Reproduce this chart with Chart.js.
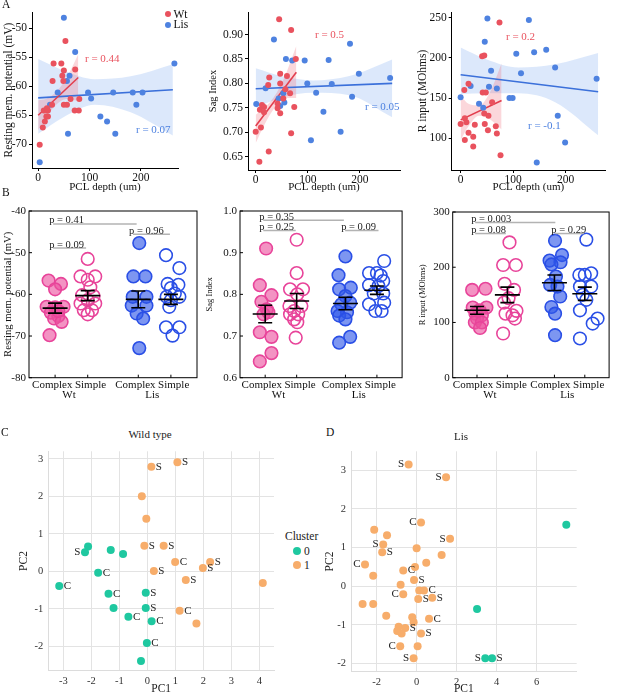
<!DOCTYPE html>
<html><head><meta charset="utf-8">
<script src="https://cdn.jsdelivr.net/npm/chart.js@4.4.0/dist/chart.umd.min.js"></script>
<style>
body{margin:0;width:617px;height:696px;position:relative;background:#fff;font-family:'Liberation Serif','Times New Roman',serif;overflow:hidden}
canvas{position:absolute}
.t{position:absolute;white-space:nowrap;line-height:1;color:#111}
.dot{position:absolute;border-radius:50%}
</style></head><body>
<script>
// ================= DATA =================
// Panel A: PCL depth (um) vs property, Wt and Lis
const depthTicks = [0, 100, 200];
const rmpTicks = [-70, -65, -60, -55, -50];
const sagTicks = [0.65, 0.70, 0.75, 0.80, 0.85, 0.90];
const rinTicks = [100, 150, 200, 250];

const a1WtDepth = [3, 9, 13, 11, 16, 19, 19, 17, 27, 28, 30, 45, 47, 49, 50, 53, 50, 56, 63, 71, 72, 79, 80];
const a1WtRmp = [-70.1, -67.1, -66.1, -64.2, -65.2, -65.2, -64.2, -63.8, -63.2, -59.1, -56.1, -56.1, -58.2, -59.1, -57.3, -52.2, -63.2, -63.2, -62.2, -64.2, -57.1, -64.2, -62.2];
const a1LisDepth = [50, 72, 61, 56, 38, 23, 58, 3, 97, 103, 121, 134, 150, 146, 184, 203, 191, 265];
const a1LisRmp = [-48.2, -54.1, -58.2, -59.1, -61.1, -63.2, -68.2, -73.1, -61.1, -62.1, -65.2, -66.1, -68.2, -61.1, -61.1, -61.1, -63.2, -56.1];

const a2WtDepth = [45, 68, 77, 47, 26, 24, 47, 60, 66, 53, 42, 42, 47, 74, 12, 16, 8, 16, 10, 0, 25, 7, 68, 57];
const a2WtSag = [0.931, 0.909, 0.850, 0.820, 0.812, 0.797, 0.800, 0.815, 0.780, 0.769, 0.759, 0.749, 0.739, 0.752, 0.756, 0.752, 0.746, 0.741, 0.710, 0.701, 0.661, 0.640, 0.698, 0.788];
const a2LisDepth = [35, 58, 70, 94, 140, 181, 198, 258, 99, 146, 116, 185, 1, 19, 53, 55, 47, 44, 130, 106, 163];
const a2LisSag = [0.890, 0.850, 0.847, 0.847, 0.848, 0.881, 0.820, 0.811, 0.800, 0.799, 0.781, 0.773, 0.758, 0.790, 0.780, 0.761, 0.754, 0.769, 0.742, 0.684, 0.701];

const a3WtDepth = [74, 41, 45, 15, 7, 42, 48, 60, 8, 45, 53, 11, 0, 27, 46, 67, 52, 69, 15, 24, 8, 24, 76];
const a3WtRin = [244, 202, 203, 168, 160, 157, 157, 145, 125, 131, 128, 120, 118, 117, 118, 115, 110, 106, 107, 102, 98, 90, 79];
const a3LisDepth = [51, 130, 46, 106, 140, 163, 180, 115, 58, 259, 19, 54, 69, 0, 93, 99, 35, 43, 185, 199, 145];
const a3LisRin = [249, 247, 220, 205, 207, 210, 188, 181, 184, 174, 165, 164, 162, 151, 150, 150, 143, 138, 128, 95, 70];

// regression lines and confidence bands
const wtFitDepth = [0, 78];
const lisFitDepth = [0, 262];
const wtBandDepth = [0, 15, 35, 55, 78];
const lisBandDepth = [0, 50, 110, 180, 262];

const a1WtFit = [-65.0, -58.5];
const a1LisFit = [-62.0, -60.6];
const a1WtUpper = [-62.4, -62.2, -61.0, -58.6, -54.5];
const a1WtLower = [-67.6, -65.4, -63.2, -62.2, -62.5];
const a1LisUpper = [-55.3, -57.3, -58.8, -58.3, -56.2];
const a1LisLower = [-68.2, -65.3, -63.2, -64.5, -68.5];

const a2WtFit = [0.713, 0.823];
const a2LisFit = [0.789, 0.800];
const a2WtUpper = [0.736, 0.748, 0.772, 0.812, 0.877];
const a2WtLower = [0.678, 0.712, 0.748, 0.770, 0.770];
const a2LisUpper = [0.831, 0.815, 0.806, 0.815, 0.849];
const a2LisLower = [0.750, 0.771, 0.781, 0.776, 0.731];

const a3WtFit = [123, 147];
const a3LisFit = [179, 158];
const a3WtUpper = [153, 143, 141, 156, 193];
const a3WtLower = [98, 115, 128, 124, 111];
const a3LisUpper = [213, 198, 188, 192, 206];
const a3LisLower = [155, 156, 156, 145, 104];

// Panel B: groups Complex/Simple within Wt/Lis
const bCatPos = [1, 2, 3.55, 4.55];
const bCatLabels = ['Complex', 'Simple', 'Complex', 'Simple'];
const bGenotypes = ['Wt', 'Lis'];
const rmpTicksB = [-80, -70, -60, -50, -40];
const sagTicksB = [0.6, 0.7, 0.8, 0.9, 1.0];
const rinTicksB = [0, 100, 200, 300];

const b1CwJit = [-0.20, 0.18, 0.0, -0.26, 0.0, 0.26, -0.13, 0.10, -0.03, 0.20, -0.17, 0.10];
const b1CwVal = [-56.7, -57.5, -58.8, -63.0, -63.1, -63.0, -64.4, -65.2, -65.8, -66.6, -69.8, -64.0];
const b1SwJit = [0.0, -0.22, 0.23, 0.0, 0.08, -0.17, 0.18, 0.0, -0.22, 0.23, -0.12, 0.13, 0.0];
const b1SwVal = [-51.5, -55.7, -55.7, -56.5, -58.3, -60.2, -60.4, -61.4, -62.2, -62.2, -63.8, -63.8, -64.8];
const b1ClJit = [0.03, -0.15, 0.22, -0.17, 0.25, -0.20, 0.25, -0.05, 0.15, 0.03];
const b1ClVal = [-47.7, -55.7, -55.7, -60.6, -60.6, -62.7, -62.7, -64.6, -65.8, -72.9];
const b1SlJit = [-0.15, 0.26, -0.10, 0.23, 0.0, 0.12, -0.13, 0.26, 0.0, -0.05, -0.15, 0.26, 0.05];
const b1SlVal = [-50.6, -53.7, -57.5, -57.7, -58.5, -59.8, -60.6, -60.6, -61.4, -63.0, -67.9, -67.9, -69.9];
const b1Mean = [-63.3, -60.3, -61.2, -61.2];
const b1Sem = [1.2, 1.2, 2.0, 1.2];
const b1PLabels = ['p = 0.41', 'p = 0.09', 'p = 0.96'];
const b1PFrom = [0.94, 0.94, 3.39];
const b1PTo = [3.5, 1.95, 4.52];
const b1PLevel = [-43.1, -48.9, -45.6];

const b2CwJit = [0.03, -0.17, 0.20, -0.12, 0.05, -0.05, 0.10, -0.17, 0.20, 0.20, -0.17];
const b2CwVal = [0.910, 0.822, 0.798, 0.782, 0.764, 0.752, 0.757, 0.709, 0.698, 0.659, 0.639];
const b2SwJit = [0.0, 0.0, -0.21, 0.20, 0.02, -0.23, 0.15, -0.08, -0.21, 0.05, -0.08, 0.02, -0.03];
const b2SwVal = [0.931, 0.851, 0.812, 0.812, 0.800, 0.772, 0.772, 0.760, 0.752, 0.752, 0.740, 0.733, 0.696];
const b2ClJit = [0.0, -0.22, -0.20, 0.17, 0.0, -0.13, 0.15, -0.25, 0.05, -0.20, 0.0, 0.15, -0.20];
const b2ClVal = [0.891, 0.846, 0.812, 0.816, 0.796, 0.776, 0.780, 0.760, 0.757, 0.749, 0.740, 0.698, 0.684];
const b2SlJit = [0.23, -0.25, 0.0, 0.20, -0.25, 0.05, -0.10, 0.20, -0.25, 0.23, -0.05, 0.15, 0.12];
const b2SlVal = [0.880, 0.851, 0.851, 0.832, 0.822, 0.820, 0.802, 0.802, 0.776, 0.780, 0.760, 0.760, 0.845];
const b2Mean = [0.753, 0.784, 0.778, 0.810];
const b2Sem = [0.021, 0.018, 0.015, 0.010];
const b2PLabels = ['p = 0.35', 'p = 0.25', 'p = 0.09'];
const b2PFrom = [0.94, 0.94, 3.54];
const b2PTo = [3.5, 1.97, 4.6];
const b2PLevel = [0.978, 0.953, 0.953];

const b3CwJit = [-0.16, 0.28, -0.14, 0.31, 0.08, -0.05, 0.16, 0.0, -0.07, 0.16, 0.10];
const b3CwVal = [159, 161, 127, 127, 122, 116, 113, 107, 100, 100, 90];
const b3SwJit = [0.07, -0.14, 0.28, -0.09, 0.22, -0.11, 0.30, -0.06, 0.17, 0.25, -0.14, 0.04];
const b3SwVal = [245, 204, 204, 170, 159, 136, 121, 116, 113, 107, 80, 144];
const b3ClJit = [0.02, 0.25, -0.16, 0.20, -0.10, 0.05, -0.14, 0.10, 0.19, -0.10, 0.02, 0.02];
const b3ClVal = [248, 222, 212, 209, 205, 183, 168, 165, 147, 128, 116, 77];
const b3SlJit = [0.05, -0.18, 0.21, 0.0, -0.16, 0.21, -0.07, -0.16, 0.26, 0.42, -0.16, 0.05];
const b3SlVal = [250, 186, 189, 186, 165, 165, 150, 122, 98, 107, 71, 141];
const b3Mean = [122, 150, 172, 152];
const b3Sem = [7, 14, 14, 12];
const b3PLabels = ['p = 0.003', 'p = 0.08', 'p = 0.29'];
const b3PFrom = [0.94, 0.94, 3.58];
const b3PTo = [3.58, 1.95, 4.52];
const b3PLevel = [281, 261, 261];

// Panel C: Wild type PCA
const cXTicks = [-3, -2, -1, 0, 1, 2, 3, 4];
const cYTicks = [-2, -1, 0, 1, 2, 3];
const c0PC1 = [-2.12, -2.23, -1.31, -0.87, -1.76, -3.15, -1.39, -1.21, -0.68, -0.06, -0.06, 0.15, -0.02, -0.23];
const c0PC2 = [0.66, 0.51, 0.57, 0.46, -0.04, -0.39, -0.60, -0.98, -1.21, -0.57, -0.98, -1.33, -1.91, -2.39];
const c0Type = ['', 'S', '', '', 'C', 'C', 'C', '', 'C', 'S', 'S', 'C', 'C', ''];
const c0Side = ['R', 'L', 'R', 'R', 'R', 'R', 'R', 'R', 'R', 'R', 'R', 'R', 'R', 'R'];
const c1PC1 = [0.14, 1.07, -0.20, -0.04, -0.11, 0.58, 0.99, 2.24, 1.98, 0.23, 1.37, 4.12, 1.15, 1.75];
const c1PC2 = [2.79, 2.91, 2.00, 1.40, 0.68, 0.68, 0.25, 0.25, 0.09, 0.01, -0.23, -0.31, -1.05, -1.39];
const c1Type = ['S', 'S', '', '', 'S', 'S', 'C', 'S', 'S', 'S', 'S', '', 'C', ''];
const c1Side = ['R', 'R', 'R', 'R', 'R', 'R', 'R', 'R', 'R', 'R', 'R', 'R', 'R', 'R'];

// Panel D: Lis PCA
const dXTicks = [-2, 0, 2, 4, 6];
const dYTicks = [-2, -1, 0, 1, 2, 3];
const d0PC1 = [7.48, 3.02, 3.43, 3.77];
const d0PC2 = [1.59, -0.59, -1.86, -1.86];
const d0Type = ['', '', 'S', 'S'];
const d0Side = ['R', 'R', 'L', 'R'];
const d1PC1 = [-0.40, 1.47, 0.22, -2.12, -1.48, -1.67, 1.67, 0.00, -1.72, 1.25, -2.58, 0.48, -0.08, -0.67, -2.17, -0.13, -0.80, 0.13, 0.37, -0.67, 0.08, 0.78, -2.70, -2.17, -1.52, -0.22, -0.15, 0.62, -0.90, -0.97, -0.57, -0.75, 0.22, -0.82, 0.05, -0.15];
const d1PC2 = [3.15, 2.82, 1.65, 1.46, 1.32, 1.08, 1.23, 0.98, 0.88, 0.81, 0.56, 0.61, 0.50, 0.41, 0.27, 0.16, 0.04, -0.11, -0.11, -0.21, -0.33, -0.30, -0.46, -0.46, -0.76, -0.80, -0.93, -0.84, -1.05, -1.16, -1.08, -1.22, -1.22, -1.55, -1.55, -1.86];
const d1Type = ['S', 'S', 'C', '', '', 'S', 'S', '', 'S', '', 'C', '', '', 'C', '', 'S', '', '', 'C', 'C', 'S', 'S', '', '', '', '', '', 'C', '', '', 'S', '', 'S', 'C', '', 'S'];
const d1Side = ['L', 'L', 'L', 'R', 'R', 'L', 'L', 'R', 'R', 'R', 'L', 'R', 'R', 'R', 'R', 'R', 'R', 'R', 'R', 'L', 'R', 'R', 'R', 'R', 'R', 'R', 'R', 'R', 'R', 'R', 'R', 'R', 'R', 'L', 'R', 'L'];

// ================= STYLE / HELPERS =================
const SERIF = "'Liberation Serif', 'Times New Roman', serif";
Chart.defaults.font.family = SERIF;
Chart.defaults.color = '#1a1a1a';
const RED = '#e9525e', RED_LINE = '#e23e4e', RED_BAND = 'rgba(240,110,125,0.28)';
const BLUE = '#4e82e0', BLUE_LINE = '#3b70da', BLUE_BAND = 'rgba(110,160,240,0.24)';
const PINK = '#e8449a', PINK_FILL = 'rgba(236,80,158,0.62)';
const BBLUE = '#2a4fe6', BBLUE_FILL = 'rgba(45,85,232,0.62)';
const TEAL = '#1fc8a0', ORANGE = '#f7ad6b';
const NONE = 'rgba(0,0,0,0)';

const pts = (xs, ys) => xs.map((v, i) => ({x: v, y: ys[i]}));
const setTicks = arr => (s => { s.ticks = arr.map(v => ({value: v})); });

function place(rect, plot, config) {
  const c = document.createElement('canvas');
  c.width = rect[2]; c.height = rect[3];
  c.style.left = rect[0] + 'px'; c.style.top = rect[1] + 'px';
  c.style.width = rect[2] + 'px'; c.style.height = rect[3] + 'px';
  document.body.appendChild(c);
  const o = config.options;
  o.responsive = false; o.animation = false; o.events = [];
  o.layout = {padding: {left: 0, top: plot[1] - rect[1], right: rect[0] + rect[2] - plot[2], bottom: 0}};
  o.scales.x.afterFit = s => { s.height = rect[1] + rect[3] - plot[3]; };
  o.scales.y.afterFit = s => { s.width = plot[0] - rect[0]; };
  o.plugins = Object.assign({legend: {display: false}, tooltip: {enabled: false}}, o.plugins || {});
  return new Chart(c, config);
}

function text(str, left, top, size, color, extra) {
  const d = document.createElement('div');
  d.className = 't'; d.textContent = str;
  d.style.left = left + 'px'; d.style.top = top + 'px';
  d.style.fontSize = size + 'px';
  if (color) d.style.color = color;
  if (extra) Object.assign(d.style, extra);
  document.body.appendChild(d);
}
function dot(cx, cy, r, color) {
  const d = document.createElement('div');
  d.className = 'dot';
  d.style.left = (cx - r) + 'px'; d.style.top = (cy - r) + 'px';
  d.style.width = d.style.height = (2 * r) + 'px';
  d.style.background = color;
  document.body.appendChild(d);
}

// ================= PANEL A =================
function aChart(rect, plot, xr, yr, yTicks, yFmt, yTitle, titleSize, wt, lis) {
  const band = (xs, ys, fill, color) => ({type: 'line', data: pts(xs, ys), borderColor: NONE, borderWidth: 0,
    pointRadius: 0, cubicInterpolationMode: 'monotone', fill: fill, backgroundColor: color});
  const scatter = (xs, ys, color) => ({data: pts(xs, ys), pointRadius: 3, pointBackgroundColor: color,
    pointBorderColor: NONE, pointBorderWidth: 0, showLine: false});
  const fitLine = (xs, ys, color) => ({type: 'line', data: pts(xs, ys), borderColor: color, borderWidth: 1.6,
    pointRadius: 0, fill: false});
  const axisCommon = () => ({
    grid: {display: true, drawOnChartArea: false, drawTicks: true, tickLength: 3, color: '#000', tickColor: '#000'},
    border: {display: true, color: '#000', width: 1}
  });
  return place(rect, plot, {
    type: 'scatter',
    data: {datasets: [
      scatter(wt.x, wt.y, RED),
      scatter(lis.x, lis.y, BLUE),
      fitLine(wtFitDepth, wt.fit, RED_LINE),
      fitLine(lisFitDepth, lis.fit, BLUE_LINE),
      band(wtBandDepth, wt.up, false, NONE),
      band(wtBandDepth, wt.lo, '-1', RED_BAND),
      band(lisBandDepth, lis.up, false, NONE),
      band(lisBandDepth, lis.lo, '-1', BLUE_BAND)
    ]},
    options: {
      scales: {
        x: Object.assign({type: 'linear', min: xr[0], max: xr[1], afterBuildTicks: setTicks(depthTicks),
          ticks: {autoSkip: false, maxRotation: 0, padding: 0, font: {size: 11.5}, color: '#111'},
          title: {display: true, text: 'PCL depth (um)', font: {size: 11}, color: '#111', padding: {top: 0, bottom: 2}}}, axisCommon()),
        y: Object.assign({type: 'linear', min: yr[0], max: yr[1], afterBuildTicks: setTicks(yTicks),
          ticks: {autoSkip: false, padding: 2, font: {size: 11.5}, color: '#111', callback: yFmt},
          title: {display: true, text: yTitle, font: {size: titleSize}, color: '#111', padding: {top: 2, bottom: 0}}}, axisCommon())
      }
    }
  });
}

aChart([0, 0, 200, 196], [32, 12, 178, 168], [-12, 272], [-74.1, -47.2], rmpTicks, v => String(v),
  'Resting mem. potential (mV)', 11.5,
  {x: a1WtDepth, y: a1WtRmp, fit: a1WtFit, up: a1WtUpper, lo: a1WtLower},
  {x: a1LisDepth, y: a1LisRmp, fit: a1LisFit, up: a1LisUpper, lo: a1LisLower});
aChart([205, 0, 205, 196], [248, 12, 400, 170], [-14.8, 277], [0.623, 0.946], sagTicks, v => v.toFixed(2),
  'Sag Index', 10.5,
  {x: a2WtDepth, y: a2WtSag, fit: a2WtFit, up: a2WtUpper, lo: a2WtLower},
  {x: a2LisDepth, y: a2LisSag, fit: a2LisFit, up: a2LisUpper, lo: a2LisLower});
aChart([414, 0, 203, 196], [451.7, 12, 605, 170], [-17, 275], [60.7, 257], rinTicks, v => String(v),
  'R input (MOhms)', 11.5,
  {x: a3WtDepth, y: a3WtRin, fit: a3WtFit, up: a3WtUpper, lo: a3WtLower},
  {x: a3LisDepth, y: a3LisRin, fit: a3LisFit, up: a3LisUpper, lo: a3LisLower});

// ================= PANEL B =================
const bPlugin = {
  id: 'bExtras',
  afterDatasetsDraw(chart) {
    const {ctx, chartArea: ca, scales: {x, y}} = chart;
    const ex = chart.options.plugins.bExtras;
    ctx.save();
    // frame
    ctx.strokeStyle = '#000'; ctx.lineWidth = 1;
    ctx.strokeRect(ca.left, ca.top, ca.right - ca.left, ca.bottom - ca.top);
    // inward ticks
    ctx.beginPath();
    bCatPos.forEach(p => { const px = x.getPixelForValue(p); ctx.moveTo(px, ca.bottom); ctx.lineTo(px, ca.bottom - 3); });
    ex.yTicks.forEach(v => { const py = y.getPixelForValue(v); ctx.moveTo(ca.left, py); ctx.lineTo(ca.left + 3, py); });
    ctx.stroke();
    // mean +/- SEM
    ctx.strokeStyle = '#000'; ctx.lineWidth = 1.6;
    ex.mean.forEach((m, i) => {
      const px = x.getPixelForValue(bCatPos[i]);
      const pm = y.getPixelForValue(m), pu = y.getPixelForValue(m + ex.sem[i]), pl = y.getPixelForValue(m - ex.sem[i]);
      ctx.beginPath();
      ctx.moveTo(px - 12.5, pm); ctx.lineTo(px + 12.5, pm);
      ctx.moveTo(px, pu); ctx.lineTo(px, pl);
      ctx.moveTo(px - 7, pu); ctx.lineTo(px + 7, pu);
      ctx.moveTo(px - 7, pl); ctx.lineTo(px + 7, pl);
      ctx.stroke();
    });
    // p-value annotations
    ctx.font = '10.5px ' + SERIF;
    ex.pLabels.forEach((t, i) => {
      const x1 = x.getPixelForValue(ex.pFrom[i]), x2 = x.getPixelForValue(ex.pTo[i]), py = y.getPixelForValue(ex.pLevel[i]);
      ctx.strokeStyle = '#b3b3b3'; ctx.lineWidth = 1.5;
      ctx.beginPath(); ctx.moveTo(x1, py); ctx.lineTo(x2, py); ctx.stroke();
      ctx.fillStyle = '#222'; ctx.textAlign = 'left'; ctx.textBaseline = 'alphabetic';
      ctx.fillText(t, x1 - 4, py - 0.5);
    });
    // category labels (Complex / Simple) and genotype labels
    ctx.font = '11px ' + SERIF; ctx.fillStyle = '#111'; ctx.textBaseline = 'middle';
    bGenotypes.forEach((g, i) => {
      const pc = x.getPixelForValue(bCatPos[2 * i]), ps = x.getPixelForValue(bCatPos[2 * i + 1]);
      const mid = (pc + ps) / 2;
      ctx.textAlign = 'right'; ctx.fillText(bCatLabels[2 * i], mid + 1, ca.bottom + 7.5);
      ctx.textAlign = 'left'; ctx.fillText(bCatLabels[2 * i + 1], mid + 3.5, ca.bottom + 7.5);
      const wC = ctx.measureText(bCatLabels[2 * i]).width, wS = ctx.measureText(bCatLabels[2 * i + 1]).width;
      ctx.textAlign = 'center';
      ctx.fillText(g, ((mid + 1 - wC) + (mid + 3.5 + wS)) / 2, ca.bottom + 17.5);
    });
    ctx.restore();
  }
};

function bChart(rect, plot, yr, yTicks, yFmt, yTitle, titleSize, jits, vals, mean, sem, pLabels, pFrom, pTo, pLevel) {
  const styles = [
    {bg: PINK_FILL, bd: PINK}, {bg: NONE, bd: PINK},
    {bg: BBLUE_FILL, bd: BBLUE}, {bg: NONE, bd: BBLUE}
  ];
  const datasets = jits.map((j, g) => ({
    data: j.map((o, i) => ({x: bCatPos[g] + o, y: vals[g][i]})),
    pointRadius: 6.3, pointBackgroundColor: styles[g].bg, pointBorderColor: styles[g].bd, pointBorderWidth: 1.6,
    showLine: false
  }));
  return place(rect, plot, {
    type: 'scatter',
    data: {datasets},
    options: {
      scales: {
        x: {type: 'linear', min: 0.2, max: 5.35, afterBuildTicks: setTicks(bCatPos),
          grid: {display: false, drawTicks: false}, border: {display: false},
          ticks: {display: false}},
        y: {type: 'linear', min: yr[0], max: yr[1], afterBuildTicks: setTicks(yTicks),
          grid: {display: false, drawTicks: false}, border: {display: false},
          ticks: {autoSkip: false, padding: 3, font: {size: 11}, color: '#111', callback: yFmt},
          title: {display: true, text: yTitle, font: {size: titleSize}, color: '#111', padding: {top: 2, bottom: 0}}}
      },
      plugins: {bExtras: {yTicks, mean, sem, pLabels, pFrom, pTo, pLevel}}
    },
    plugins: [bPlugin]
  });
}

bChart([0, 200, 205, 205], [29, 211, 197, 377.7], [-80, -40], rmpTicksB, v => String(v), 'Resting mem. potential (mV)', 10.7,
  [b1CwJit, b1SwJit, b1ClJit, b1SlJit], [b1CwVal, b1SwVal, b1ClVal, b1SlVal], b1Mean, b1Sem,
  b1PLabels, b1PFrom, b1PTo, b1PLevel);
bChart([203, 200, 207, 205], [240, 211, 407, 377.7], [0.6, 1.0], sagTicksB, v => v.toFixed(1), 'Sag Index', 8.5,
  [b2CwJit, b2SwJit, b2ClJit, b2SlJit], [b2CwVal, b2SwVal, b2ClVal, b2SlVal], b2Mean, b2Sem,
  b2PLabels, b2PFrom, b2PTo, b2PLevel);
bChart([416, 200, 201, 205], [452.7, 212, 614, 377.7], [0, 300], rinTicksB, v => String(v), 'R input (MOhms)', 8.5,
  [b3CwJit, b3SwJit, b3ClJit, b3SlJit], [b3CwVal, b3SwVal, b3ClVal, b3SlVal], b3Mean, b3Sem,
  b3PLabels, b3PFrom, b3PTo, b3PLevel);

// ================= PANELS C & D =================
const labelPlugin = {
  id: 'pointTypes',
  afterDatasetsDraw(chart) {
    const ctx = chart.ctx;
    ctx.save();
    ctx.font = '11px ' + SERIF; ctx.fillStyle = '#222'; ctx.textBaseline = 'middle';
    chart.data.datasets.forEach((ds, di) => {
      if (!ds.types) return;
      chart.getDatasetMeta(di).data.forEach((el, i) => {
        const t = ds.types[i];
        if (!t) return;
        if (ds.sides[i] === 'L') { ctx.textAlign = 'right'; ctx.fillText(t, el.x - 4.5, el.y); }
        else { ctx.textAlign = 'left'; ctx.fillText(t, el.x + 4.5, el.y); }
      });
    });
    ctx.restore();
  }
};

function pcChart(rect, plot, xr, yr, xTicks, yTicks, c0, c1) {
  const ds = (c, color) => ({data: pts(c.x, c.y), types: c.t, sides: c.s, pointRadius: 4,
    pointBackgroundColor: color, pointBorderColor: NONE, pointBorderWidth: 0, showLine: false});
  const grid = () => ({display: true, drawTicks: false, color: '#e3e3e3', lineWidth: 1});
  const border = () => ({display: true, color: '#dcdcdc', width: 1});
  return place(rect, plot, {
    type: 'scatter',
    data: {datasets: [ds(c0, TEAL), ds(c1, ORANGE)]},
    options: {
      scales: {
        x: {type: 'linear', min: xr[0], max: xr[1], afterBuildTicks: setTicks(xTicks), grid: grid(), border: border(),
          ticks: {autoSkip: false, maxRotation: 0, padding: 4, font: {size: 10.5}, color: '#333'},
          title: {display: true, text: 'PC1', font: {size: 11.5}, color: '#222', padding: {top: 0, bottom: 0}}},
        y: {type: 'linear', min: yr[0], max: yr[1], afterBuildTicks: setTicks(yTicks), grid: grid(), border: border(),
          ticks: {autoSkip: false, padding: 5, font: {size: 10.5}, color: '#333'},
          title: {display: true, text: 'PC2', font: {size: 11.5}, color: '#222', padding: {top: 2, bottom: 0}}}
      }
    },
    plugins: [labelPlugin]
  });
}

pcChart([15, 440, 265, 256], [48.3, 448.3, 274, 670.7], [-3.54, 4.52], [-2.65, 3.2], cXTicks, cYTicks,
  {x: c0PC1, y: c0PC2, t: c0Type, s: c0Side}, {x: c1PC1, y: c1PC2, t: c1Type, s: c1Side});
pcChart([321, 440, 296, 256], [351, 446.7, 576.7, 671.7], [-3.28, 8.0], [-2.21, 3.49], dXTicks, dYTicks,
  {x: d0PC1, y: d0PC2, t: d0Type, s: d0Side}, {x: d1PC1, y: d1PC2, t: d1Type, s: d1Side});

// ================= TEXT OVERLAYS =================
text('A', 2, -1, 11.5);
text('B', 2, 187, 11.5);
text('C', 1, 427, 11.5);
text('D', 326, 427, 11.5);

dot(168, 14, 3, RED); text('Wt', 173.5, 8.5, 11.5);
dot(168, 24.5, 3, BLUE); text('Lis', 173.5, 19, 11.5);

text('r = 0.44', 85, 52.5, 11, RED);
text('r = 0.07', 136, 123.5, 11, BLUE);
text('r = 0.5', 315, 28.5, 11, RED);
text('r = 0.05', 365, 100.5, 11, BLUE);
text('r = 0.2', 506, 30.5, 11, RED);
text('r = -0.1', 528, 119.5, 11, BLUE);

text('Wild type', 150, 428.5, 11, '#222', {transform: 'translateX(-50%)'});
text('Lis', 461, 430.5, 11, '#222', {transform: 'translateX(-50%)'});

text('Cluster', 285, 531, 11.5, '#222');
dot(297, 551, 4, TEAL); text('0', 304, 545.5, 11.5, '#222');
dot(297, 565, 4, ORANGE); text('1', 304, 559.5, 11.5, '#222');
</script>
</body></html>
